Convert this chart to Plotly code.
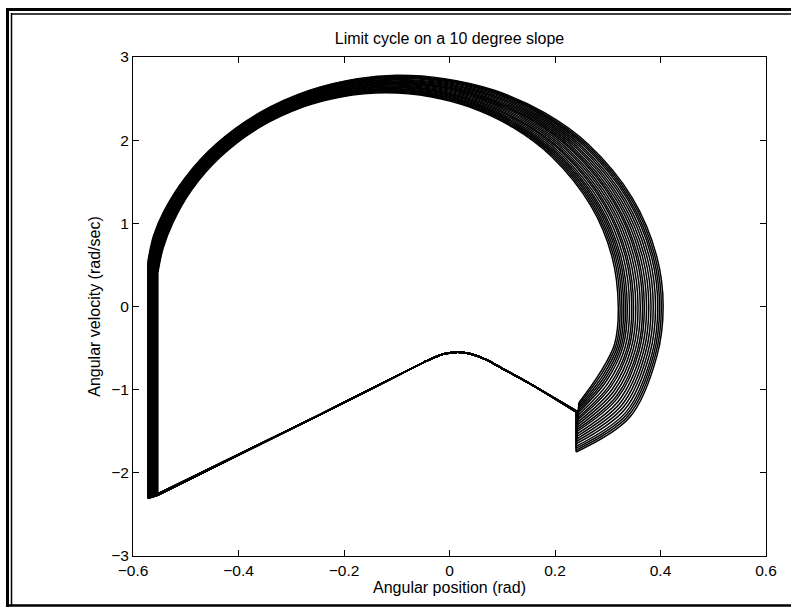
import plotly.graph_objects as go

# ---- data ----
# outer (largest) and inner (smallest) swing arcs of the limit cycle
arc_outer_x = [-0.572, -0.561, -0.541, -0.501, -0.443, -0.360, -0.265, -0.174, -0.100, -0.010,
               0.085, 0.180, 0.263, 0.347, 0.393, 0.405, 0.393, 0.342, 0.240]
arc_outer_y = [0.53, 0.85, 1.15, 1.55, 1.95, 2.33, 2.60, 2.74, 2.78, 2.74,
               2.60, 2.33, 1.95, 1.30, 0.60, 0.00, -0.60, -1.33, -1.75]
arc_inner_x = [-0.553, -0.543, -0.525, -0.489, -0.434, -0.361, -0.277, -0.206, -0.120, -0.034,
               0.037, 0.121, 0.194, 0.269, 0.308, 0.320, 0.313, 0.287, 0.245]
arc_inner_y = [0.40, 0.70, 1.00, 1.40, 1.80, 2.15, 2.40, 2.52, 2.57, 2.52,
               2.40, 2.15, 1.80, 1.20, 0.60, 0.00, -0.45, -0.78, -1.16]
# relative size of each simulated step between inner (0) and outer (1) arc
cycle_size = [0.0, 0.04, 0.08, 0.12, 0.16, 0.20, 0.25, 0.30, 0.34, 0.39, 0.44,
              0.49, 0.54, 0.58, 0.63, 0.68, 0.73, 0.78, 0.83, 0.88, 0.92, 0.96, 1.0]
# stance return path (shared by all steps)
return_x = [0.244, 0.153, 0.100, 0.070, 0.040, 0.016, -0.010, -0.030, -0.050, -0.2455]
return_y = [-1.27, -0.93, -0.745, -0.64, -0.57, -0.548, -0.57, -0.615, -0.675, -1.30]
return_end_y_inner = -2.27
return_end_y_outer = -2.31

x_ticks = [-0.6, -0.4, -0.2, 0, 0.2, 0.4, 0.6]
y_ticks = [-3, -2, -1, 0, 1, 2, 3]

# ---- build traces ----
ax, ay = [], []
vx, vy = [], []
rx, ry = [], []
for f in cycle_size:
    cx = [i + f * (o - i) for i, o in zip(arc_inner_x, arc_outer_x)]
    cy = [i + f * (o - i) for i, o in zip(arc_inner_y, arc_outer_y)]
    ax += cx + [None]
    ay += cy + [None]
    end_y = return_end_y_inner + f * (return_end_y_outer - return_end_y_inner)
    # impact jumps (vertical segments)
    vx += [cx[-1], cx[-1], None, cx[0], cx[0], None]
    vy += [cy[-1], return_y[0], None, end_y, cy[0], None]
    rx += [cx[-1]] + return_x[1:] + [cx[0], None]
    ry += return_y + [end_y, None]

fig = go.Figure()
line = dict(color="black", width=1.5)
fig.add_trace(go.Scatter(x=ax, y=ay, mode="lines", line=dict(line, shape="spline", smoothing=1.0),
                         hoverinfo="skip", showlegend=False))
fig.add_trace(go.Scatter(x=vx, y=vy, mode="lines", line=line, hoverinfo="skip", showlegend=False))
fig.add_trace(go.Scatter(x=rx, y=ry, mode="lines", line=dict(color="black", width=1.6, shape="spline", smoothing=0.8),
                         hoverinfo="skip", showlegend=False))

L, R, T, B = 133, 25, 57, 51
W, H = 791, 607
pw, ph = W - L - R, H - T - B


def px(x):
    return (x - L) / pw


def py(y):
    return (H - B - y) / ph


shapes = []
def seg(x0, y0, x1, y1, w):
    shapes.append(dict(type="line", xref="paper", yref="paper",
                       x0=px(x0), y0=py(y0), x1=px(x1), y1=py(y1),
                       line=dict(color="black", width=w)))

# double frame around the figure
seg(6, 9.5, 792, 9.5, 3)
seg(7.5, 8, 7.5, 608, 3)
seg(6, 605.5, 792, 605.5, 2.5)
seg(11, 14, 792, 14, 1.5)
seg(11.5, 13, 11.5, 605, 1.5)

font = dict(family="Liberation Sans, Arial, Helvetica, sans-serif", size=15.5, color="black")
axis_common = dict(showgrid=False, zeroline=False, showline=True, linecolor="black", linewidth=1,
                   mirror="ticks", ticks="inside", ticklen=6, tickwidth=1, tickcolor="black",
                   tickfont=font)

fig.update_layout(
    width=W, height=H,
    margin=dict(l=L, r=R, t=T, b=B),
    paper_bgcolor="white", plot_bgcolor="white",
    font=font,
    title=dict(text="Limit cycle on a 10 degree slope", x=(L + pw / 2) / W, xanchor="center",
               y=1 - 38 / H, yanchor="middle", font=dict(font, size=16)),
    xaxis=dict(axis_common, range=[-0.6, 0.6], tickvals=x_ticks,
               ticktext=["\u22120.6", "\u22120.4", "\u22120.2", "0", "0.2", "0.4", "0.6"],
               title=dict(text="Angular position (rad)", font=dict(font, size=16), standoff=2)),
    yaxis=dict(axis_common, range=[-3, 3], tickvals=y_ticks,
               ticktext=["\u22123", "\u22122", "\u22121", "0", "1", "2", "3"],
               title=dict(text="Angular velocity (rad/sec)", font=dict(font, size=16), standoff=6)),
    shapes=shapes,
)

fig.write_html("out.html", config={"displayModeBar": False},
               post_script="document.body.style.margin='0';document.body.style.overflow='hidden';")
